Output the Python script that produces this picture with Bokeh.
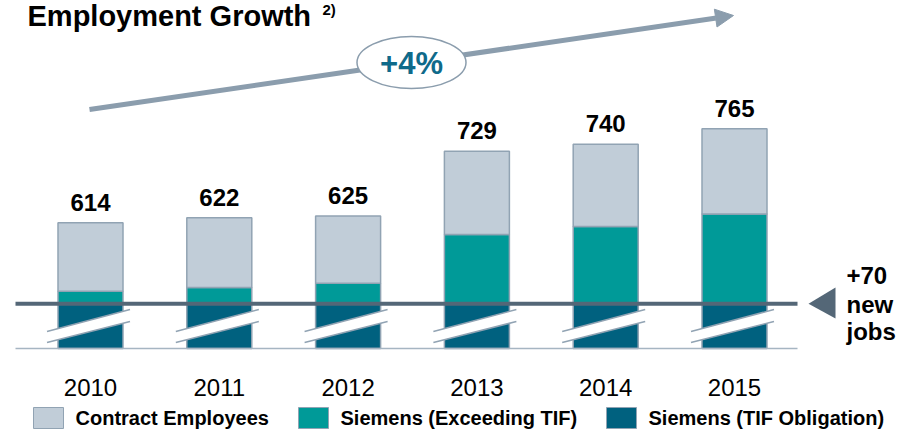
from bokeh.plotting import figure
from bokeh.models import Range1d, ColumnDataSource, Arrow, NormalHead
from bokeh.core.properties import value
from bokeh.embed import file_html
from bokeh.resources import INLINE

# ---------------- data ----------------
years = ["2010", "2011", "2012", "2013", "2014", "2015"]
total = [614, 622, 625, 729, 740, 765]
siemens_exceeding = [20, 26, 33, 111, 124, 144]
tif_obligation_level = 484          # top of "Siemens (TIF Obligation)" (broken axis)
axis_floor = 412                    # value where the broken axis starts
legend_labels = ["Contract Employees", "Siemens (Exceeding TIF)", "Siemens (TIF Obligation)"]
growth_label = "+4%"
jobs_label = ["+70", "new", "jobs"]
title = "Employment Growth"

# ---------------- styling / layout ----------------
C_CONTRACT = "#c1cdd8"
C_EXCEED = "#009a98"
C_TIF = "#00617f"
C_OUTLINE = "#91a3b3"
C_LINE = "#546777"
C_ARROW = "#8b9dad"
C_BASE = "#a6b5c2"
C_PCT = "#0f6a8a"
FONT = value("Liberation Sans")

W, H = 899, 430
FIRST_CENTER_PX = 90.0
BAR_PITCH_PX = 128.8
FLOOR_PX = 348.0
PX_PER_EMP = 0.6225
BAR_W_PX = 65.0


def X(px):
    return (px - FIRST_CENTER_PX) / BAR_PITCH_PX


def Y(py):
    return axis_floor + (FLOOR_PX - py) / PX_PER_EMP


idx = list(range(len(years)))
tif_top = [tif_obligation_level] * len(years)
exceed_top = [tif_obligation_level + e for e in siemens_exceeding]

src = ColumnDataSource(dict(
    x=idx,
    floor=[axis_floor] * len(years),
    tif_top=tif_top,
    exceed_top=exceed_top,
    total=total,
    label=[str(t) for t in total],
    label_y=[t + 20.5 / PX_PER_EMP for t in total],
    year=years,
    year_y=[Y(387)] * len(years),
))

p = figure(width=W, height=H, output_backend="svg", toolbar_location=None,
           x_range=Range1d(X(0), X(W)), y_range=Range1d(Y(H), Y(0)),
           x_axis_location=None, y_axis_location=None, min_border=0)
p.grid.visible = False
p.outline_line_color = None
p.background_fill_color = "white"
p.border_fill_color = "white"

# growth arrow (under glyphs so the ellipse covers it)
arrow = Arrow(end=NormalHead(size=18, fill_color=C_ARROW, line_color=C_ARROW, line_width=1),
              x_start=X(89), y_start=Y(109), x_end=X(733), y_end=Y(15),
              line_color=C_ARROW, line_width=5, level="underlay")
p.add_layout(arrow)

bw = BAR_W_PX / BAR_PITCH_PX
p.vbar(x="x", bottom="floor", top="tif_top", width=bw, source=src,
       fill_color=C_TIF, line_color=C_OUTLINE, line_width=1.5)
p.vbar(x="x", bottom="tif_top", top="exceed_top", width=bw, source=src,
       fill_color=C_EXCEED, line_color=C_OUTLINE, line_width=1.5)
p.vbar(x="x", bottom="exceed_top", top="total", width=bw, source=src,
       fill_color=C_CONTRACT, line_color=C_OUTLINE, line_width=1.5)

# axis-break marks
bxs, bys, l1x, l1y = [], [], [], []
for i in idx:
    xl = i - (BAR_W_PX / 2 + 11) / BAR_PITCH_PX
    xr = i + (BAR_W_PX / 2 + 7) / BAR_PITCH_PX
    bxs.append([xl, xr, xr, xl])
    bys.append([Y(331), Y(309), Y(321), Y(342)])
    l1x += [[xl, xr], [xl, xr]]
    l1y += [[Y(331), Y(309)], [Y(342), Y(321)]]
p.patches(bxs, bys, fill_color="white", line_color=None)
p.multi_line(l1x, l1y, line_color=C_OUTLINE, line_width=1.5)

# baseline and TIF line
p.segment(x0=[X(15)], y0=[axis_floor], x1=[X(797)], y1=[axis_floor], line_color=C_BASE, line_width=1.5)
p.segment(x0=[X(15)], y0=[tif_obligation_level], x1=[X(797)], y1=[tif_obligation_level],
          line_color=C_LINE, line_width=4)
p.patch([X(808), X(835), X(835)], [tif_obligation_level, Y(287), Y(318)], fill_color=C_LINE, line_color=None)

# value labels and year labels (y values are the visual centres of the text)
p.text(x="x", y="label_y", text="label", source=src, text_font=FONT, text_font_style="bold",
       text_font_size="24px", text_align="center", text_baseline="alphabetic", text_color="black")
p.text(x="x", y="year_y", text="year", source=src, text_font=FONT,
       text_font_size="24px", text_align="center", text_baseline="alphabetic", text_color="black")

# growth ellipse
p.ellipse(x=[X(411)], y=[Y(62)], width=109 / BAR_PITCH_PX, height=52 / PX_PER_EMP,
          fill_color="white", line_color=C_ARROW, line_width=1.5)
p.text(x=[X(411)], y=[Y(63)], text=[growth_label], text_font=FONT, text_font_style="bold",
       text_font_size="31px", text_align="center", text_baseline="alphabetic", text_color=C_PCT)

# title
p.text(x=[X(27)], y=[Y(15)], text=[title], text_font=FONT, text_font_style="bold",
       text_font_size="29px", text_align="left", text_baseline="alphabetic", text_color="black")
p.text(x=[X(322)], y=[Y(9)], text=["2)"], text_font=FONT, text_font_style="bold",
       text_font_size="15px", text_align="left", text_baseline="alphabetic", text_color="black")

# "+70 new jobs"
p.text(x=[X(846)] * 3, y=[Y(274.5), Y(303.5), Y(331)], text=jobs_label, text_font=FONT,
       text_font_style="bold", text_font_size="24px", text_align="left",
       text_baseline="alphabetic", text_color="black")

# legend
sq_left = [33, 298, 606]
txt_left = [75, 340, 648]
colors = [C_CONTRACT, C_EXCEED, C_TIF]
p.quad(left=[X(a) for a in sq_left], right=[X(a + 30) for a in sq_left],
       top=[Y(407)] * 3, bottom=[Y(428)] * 3, fill_color=colors, line_color=C_OUTLINE, line_width=1)
p.text(x=[X(a) for a in txt_left], y=[Y(417.5)] * 3, text=legend_labels, text_font=FONT,
       text_font_style="bold", text_font_size="20px", text_align="left",
       text_baseline="alphabetic", text_color="black")

open("out.html", "w").write(file_html(p, INLINE))
